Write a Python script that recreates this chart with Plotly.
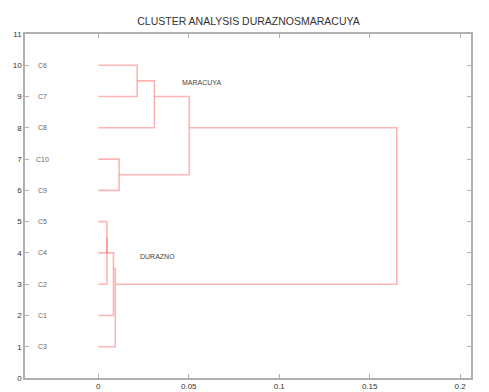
import plotly.graph_objects as go

# Leaves (y position -> label)
leaf_y = [1, 2, 3, 4, 5, 6, 7, 8, 9, 10]
leaf_labels = ["C3", "C1", "C2", "C4", "C5", "C9", "C10", "C8", "C7", "C6"]

# Linkage: (left child, right child, merge height, node y)
links = [
    ("L10", "L9", 0.0215, 9.5),   # N1
    ("N1", "L8", 0.031, 9.0),     # N2
    ("L7", "L6", 0.0115, 6.5),    # N3
    ("N2", "N3", 0.0503, 8.0),    # N4
    ("L5", "L4", 0.0048, 4.5),    # N5
    ("N5", "L3", 0.0048, 4.0),    # N6
    ("N6", "L2", 0.0084, 3.5),    # N7
    ("N7", "L1", 0.0094, 3.0),    # N8
    ("N4", "N8", 0.165, 3.0),     # N9
]

group_labels = ["MARACUYA", "DURAZNO"]
group_x = [0.045, 0.022]
group_y = [9.45, 3.9]

title = "CLUSTER ANALYSIS DURAZNOSMARACUYA"
x_ticks = [0, 0.05, 0.1, 0.15, 0.2]
x_tick_text = ["0", "0.05", "0.1", "0.15", "0.2"]
y_ticks = list(range(0, 12))

pos = {f"L{y}": (0.0, y) for y in leaf_y}
segments = []
for k, (a, b, h, ny) in enumerate(links, start=1):
    xa, ya = pos[a]
    xb, yb = pos[b]
    segments.append(([xa, h, h, xb], [ya, ya, yb, yb]))
    pos[f"N{k}"] = (h, ny)

fig = go.Figure()
for xs, ys in segments:
    fig.add_trace(go.Scatter(x=xs, y=ys, mode="lines",
                             line=dict(color="rgba(255,90,90,0.45)", width=1.6),
                             hoverinfo="skip", showlegend=False))

for y, lab in zip(leaf_y, leaf_labels):
    fig.add_annotation(x=-0.031, y=y, text=lab, showarrow=False,
                       font=dict(size=7, color="#666", family="Liberation Sans"))
for lab, gx, gy in zip(group_labels, group_x, group_y):
    fig.add_annotation(x=gx, y=gy, text=lab, showarrow=False, xanchor="left",
                       font=dict(size=7, color="#444", family="Liberation Sans"))

axis_common = dict(showgrid=False, zeroline=False, showline=True, mirror="ticks",
                   linecolor="#b0b0b0", linewidth=1.5, ticks="inside", ticklen=4,
                   tickcolor="#b0b0b0", automargin=False,
                   tickfont=dict(size=8, color="#333", family="Liberation Sans"))
fig.update_xaxes(range=[-0.0405, 0.206], tickvals=x_ticks, ticktext=x_tick_text, **axis_common)
fig.update_yaxes(range=[0, 11], tickvals=y_ticks, **axis_common)

# page body adds an 8px offset, so the figure is sized to fit the window
fig.update_layout(
    width=481, height=384,
    margin=dict(l=17, r=18, t=26, b=14),
    paper_bgcolor="white", plot_bgcolor="white",
    title=dict(text=title, x=0.5, xanchor="center", y=0.965, yanchor="middle",
               font=dict(size=10.5, color="#333", family="Liberation Sans")),
)
fig.write_html("out.html")
